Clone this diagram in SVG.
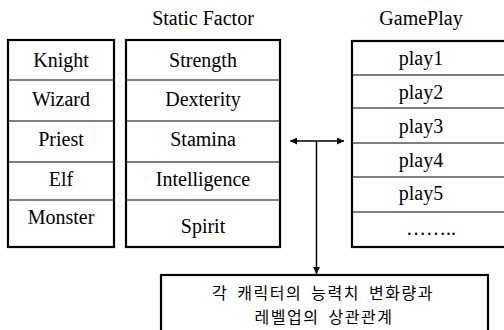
<svg xmlns="http://www.w3.org/2000/svg" width="504" height="330" viewBox="0 0 504 330">
<style>
.t{font-family:"Liberation Serif","Times New Roman",serif;font-size:20px;fill:#000;text-anchor:middle}
.k{font-family:"Noto Sans CJK KR","Noto Sans",sans-serif;font-size:16px;fill:#000;text-anchor:middle;letter-spacing:1.5px;word-spacing:4px}
.box{fill:#fff;stroke:#000;stroke-width:2.2}
.div{stroke:#000;stroke-width:1.2}
.con{stroke:#000;stroke-width:1.5;fill:none}
</style>
<defs>
<marker id="ah" viewBox="0 0 10 10" refX="10" refY="5" markerWidth="8" markerHeight="7" markerUnits="userSpaceOnUse" orient="auto-start-reverse">
<path d="M0,0 L10,5 L0,10 z" fill="#000"/>
</marker>
</defs>
<rect width="504" height="330" fill="#fff"/>
<g id="title-static"><text class="t" x="203" y="25">Static Factor</text></g>
<g id="title-gameplay"><text class="t" x="421" y="25">GamePlay</text></g>
<g id="characters">
<rect class="box" x="8" y="40" width="106" height="207"/>
<line class="div" x1="8" y1="80" x2="114" y2="80"/>
<line class="div" x1="8" y1="121" x2="114" y2="121"/>
<line class="div" x1="8" y1="162" x2="114" y2="162"/>
<line class="div" x1="8" y1="200" x2="114" y2="200"/>
<text class="t" x="61" y="67">Knight</text>
<text class="t" x="61" y="106">Wizard</text>
<text class="t" x="61" y="146">Priest</text>
<text class="t" x="61" y="186">Elf</text>
<text class="t" x="61" y="224">Monster</text>
</g>
<g id="static-factor">
<rect class="box" x="126" y="40" width="154" height="207"/>
<line class="div" x1="126" y1="80" x2="280" y2="80"/>
<line class="div" x1="126" y1="121" x2="280" y2="121"/>
<line class="div" x1="126" y1="162" x2="280" y2="162"/>
<line class="div" x1="126" y1="200" x2="280" y2="200"/>
<text class="t" x="203" y="67">Strength</text>
<text class="t" x="203" y="106">Dexterity</text>
<text class="t" x="203" y="146">Stamina</text>
<text class="t" x="203" y="186">Intelligence</text>
<text class="t" x="203" y="233">Spirit</text>
</g>
<g id="gameplay">
<rect class="box" x="352" y="41" width="160" height="206"/>
<line class="div" x1="352" y1="75" x2="504" y2="75"/>
<line class="div" x1="352" y1="108" x2="504" y2="108"/>
<line class="div" x1="352" y1="143" x2="504" y2="143"/>
<line class="div" x1="352" y1="177" x2="504" y2="177"/>
<line class="div" x1="352" y1="212" x2="504" y2="212"/>
<text class="t" x="421" y="65">play1</text>
<text class="t" x="421" y="99">play2</text>
<text class="t" x="421" y="133">play3</text>
<text class="t" x="421" y="167">play4</text>
<text class="t" x="421" y="200">play5</text>
<text class="t" x="431" y="235">……..</text>
</g>
<g id="connectors">
<line class="con" x1="290" y1="141" x2="344" y2="141" marker-start="url(#ah)" marker-end="url(#ah)"/>
<line class="con" x1="316.5" y1="141" x2="316.5" y2="274" marker-end="url(#ah)"/>
</g>
<g id="relation">
<rect class="box" x="161" y="275" width="327" height="60"/>
<text class="k" x="323" y="298.5">각 캐릭터의 능력치 변화량과</text>
<text class="k" x="324" y="322.5">레벨업의 상관관계</text>
</g>
</svg>
